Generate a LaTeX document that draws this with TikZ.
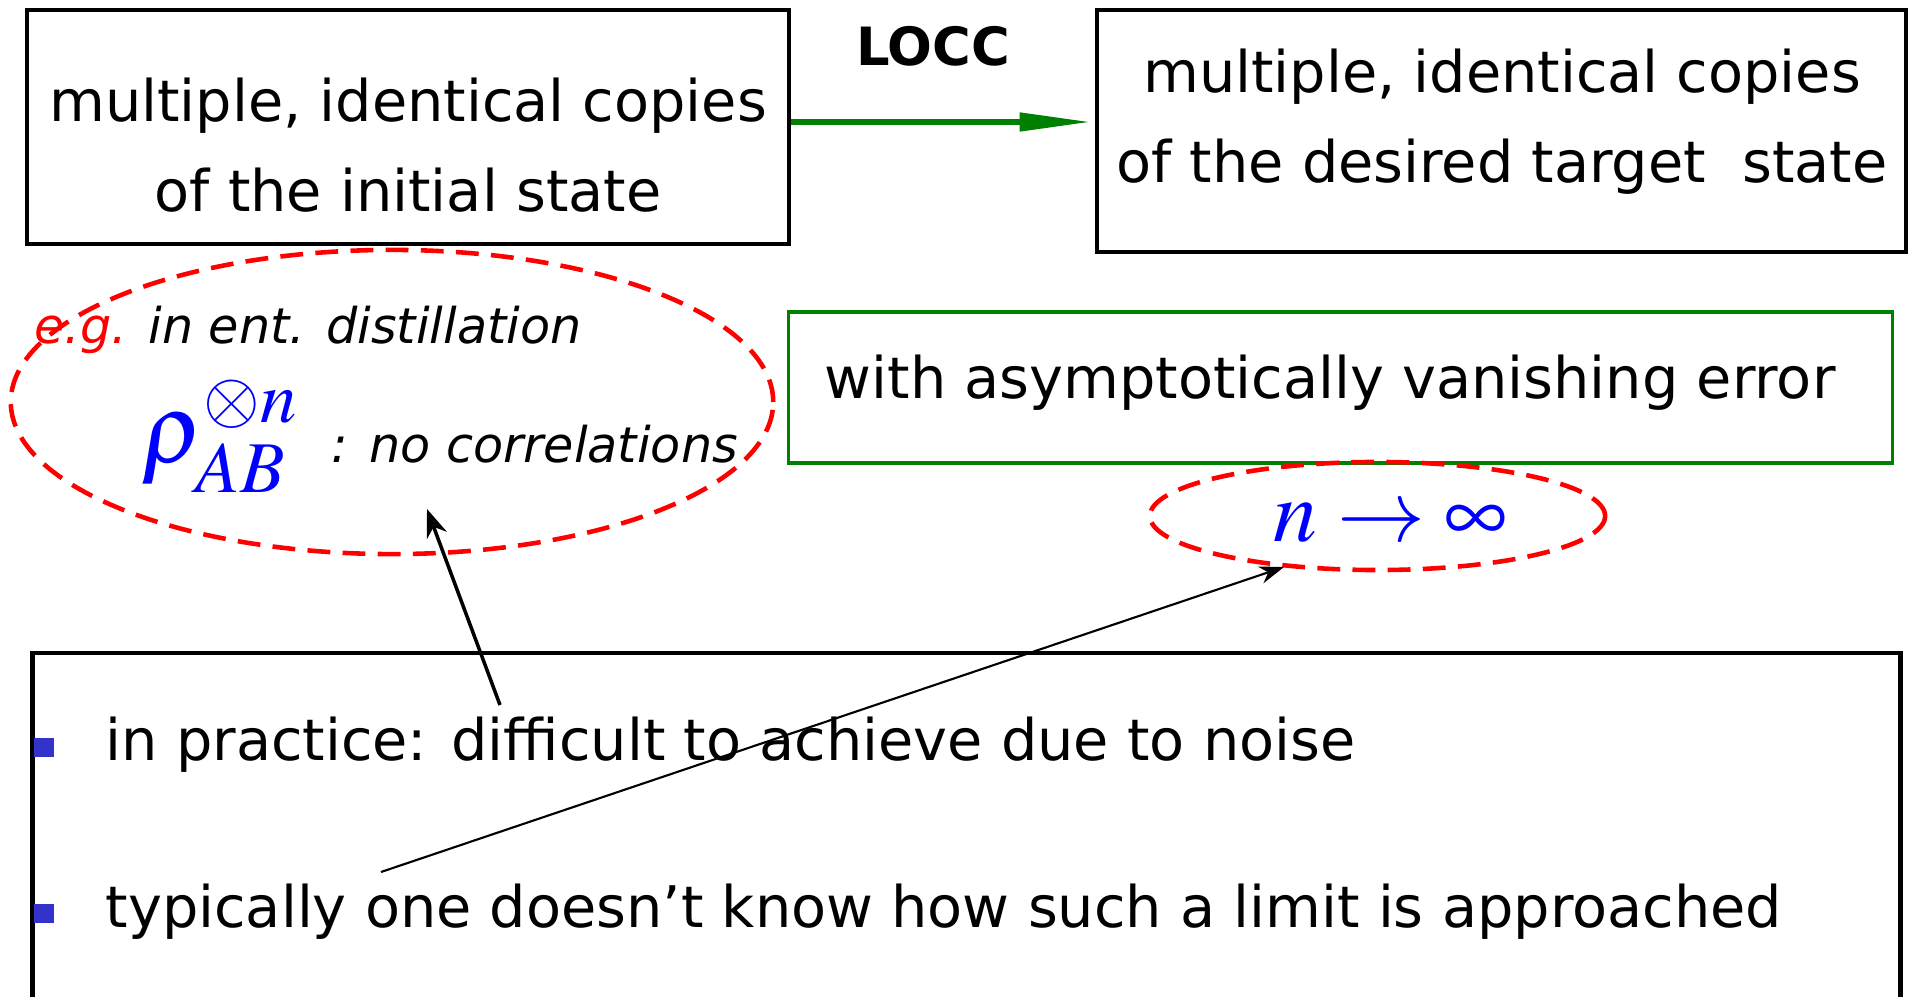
\documentclass[tikz,border=0pt]{standalone}
\usepackage{mathptmx}
\usepackage{fontspec}
\setmainfont{DejaVu Sans}
\usetikzlibrary{arrows.meta,shapes.geometric}
\definecolor{dkgreen}{RGB}{0,128,0}
\definecolor{bulletblue}{RGB}{51,51,204}
\tikzset{
  frame/.style={draw,line width=1.2pt,inner sep=0pt},
  redell/.style={ellipse,draw=red,line width=1.3pt,dash pattern=on 6.5pt off 3.5pt,inner sep=0pt},
  bigtxt/.style={font=\fontsize{16.3}{25.6}\selectfont,inner sep=0pt},
  smalltxt/.style={font=\fontsize{14}{17}\selectfont\itshape,inner sep=0pt},
  bul/.style={fill=bulletblue,minimum size=0.19cm,inner sep=0pt},
}

\begin{document}
\begin{tikzpicture}[x=0.01cm,y=-0.01cm]
	\useasboundingbox (0,0) rectangle (1912,997);
	%TOP ROW
	\node[frame,minimum width=7.62cm,minimum height=2.34cm] (init) at (408,127) {};
	\node[bigtxt,align=center] (initT) at (408,145) {multiple, identical copies\\of the initial state};
	\node[frame,minimum width=8.09cm,minimum height=2.42cm] (target) at (1501.5,131) {};
	\node[bigtxt,align=center] (targetT) at (1502,122) {multiple, identical copies\\of the desired target~ state};
	\node[font=\fontsize{15}{18}\selectfont\bfseries] (locc) at (933,46) {LOCC};
	\draw[dkgreen,line width=1.7pt,-{Triangle[length=20.5pt,width=5pt]},shorten >=0.03cm] ([yshift=0.05cm]init.east) -- ([yshift=0.05cm]init.east -| target.west);
	
	%EXAMPLE
	\node[redell,minimum width=7.62cm,minimum height=3.04cm] (rhoEll) at (392,402) {};
	\node[smalltxt,anchor=base west] (eg) at (34,343) {\textcolor{red}{e.g.} in ent. distillation};
	\node[anchor=base west,inner sep=0pt,text=blue,font=\fontsize{28}{34}\selectfont] (rho) at (141,462) {$\rho_{AB}^{\otimes n}$};
	\node[smalltxt,anchor=base west] (nocorr) at (331,462) {: no correlations};
	
	%ERROR
	\node[frame,draw=dkgreen,line width=1pt,minimum width=11.03cm,minimum height=1.51cm] (errbox) at (1340.5,387.5) {};
	\node[bigtxt,anchor=base west] (errT) at (824,398) {with asymptotically vanishing error};
	\node[redell,minimum width=4.55cm,minimum height=1.08cm] (limEll) at (1377.5,516) {};
	\node[anchor=base west,inner sep=0pt,text=blue,font=\fontsize{25}{30}\selectfont] (lim) at (1273,541) {$n\rightarrow\infty$};
	
	%BULLETS
	\node[frame,minimum width=18.67cm,minimum height=3.94cm] (notes) at (966.5,850) {};
	\node[bul] (b1) at (44,747) {};
	\node[bigtxt,anchor=base west] (p1) at (105,760) {in practice: difficult to achieve due to noise};
	\node[bul] (b2) at (44,913) {};
	\node[bigtxt,anchor=base west] (p2) at (105,927) {typically one doesn’t know how such a limit is approached};
	
	%POINTERS
	\coordinate (fromA) at (500,705);
	\coordinate (tipA) at (427,509);
	\coordinate (fromB) at (381,872);
	\coordinate (tipB) at (1284,567);
	\draw[line width=1pt,-{Stealth[length=8pt,width=6pt]}] (fromA) -- (tipA);
	\draw[line width=0.6pt,-{Stealth[length=7pt,width=5pt]}] (fromB) -- (tipB);
\end{tikzpicture}
\end{document}
